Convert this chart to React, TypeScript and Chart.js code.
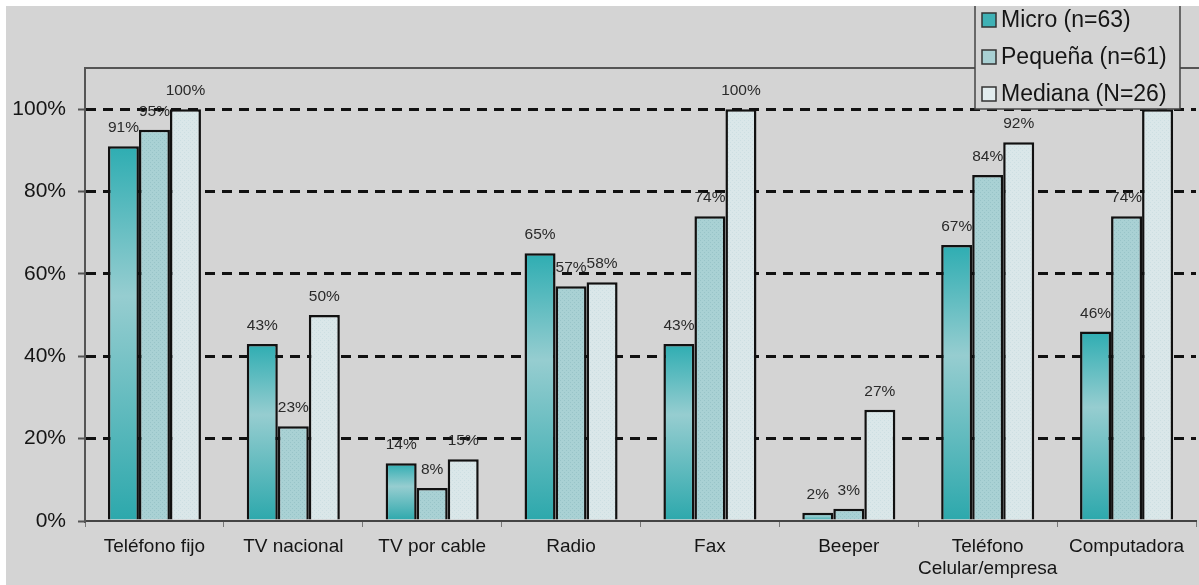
import React, { useEffect, useRef } from "react";
import { Chart, registerables } from "chart.js";

Chart.register(...registerables);

const categories: (string | string[])[] = [
  "Teléfono fijo",
  "TV nacional",
  "TV por cable",
  "Radio",
  "Fax",
  "Beeper",
  ["Teléfono", "Celular/empresa"],
  "Computadora",
];
const microValues = [91, 43, 14, 65, 43, 2, 67, 46];
const pequenaValues = [95, 23, 8, 57, 74, 3, 84, 74];
const medianaValues = [100, 50, 15, 58, 100, 27, 92, 100];
const seriesLabels = ["Micro (n=63)", "Pequeña (n=61)", "Mediana (N=26)"];
const yTickValues = [0, 20, 40, 60, 80, 100];

const FONT = 'Arial, "Liberation Sans", sans-serif';
const BG = "#d4d4d4";
const legendSwatches = ["#3fb1b5", "#a8d0d3", "#e2ecee"];

function makePattern(base: string, dot: string): CanvasPattern | string {
  const c = document.createElement("canvas");
  c.width = 4;
  c.height = 4;
  const x = c.getContext("2d");
  if (!x) return base;
  x.fillStyle = base;
  x.fillRect(0, 0, 4, 4);
  x.fillStyle = dot;
  x.fillRect(0, 0, 1, 1);
  x.fillRect(2, 2, 1, 1);
  const p = x.createPattern(c, "repeat");
  return p || base;
}

const bgPlugin = {
  id: "bgPlugin",
  beforeDraw(chart: any) {
    const ctx = chart.ctx;
    ctx.save();
    ctx.fillStyle = BG;
    ctx.fillRect(0, 0, chart.width, chart.height);
    ctx.restore();
  },
};

const valueLabelPlugin = {
  id: "valueLabels",
  afterDatasetsDraw(chart: any) {
    const ctx = chart.ctx;
    ctx.save();
    ctx.font = `15.5px ${FONT}`;
    ctx.fillStyle = "#2a2a2a";
    ctx.textAlign = "center";
    ctx.textBaseline = "alphabetic";
    chart.data.datasets.forEach((ds: any, i: number) => {
      const meta = chart.getDatasetMeta(i);
      meta.data.forEach((el: any, j: number) => {
        ctx.fillText(ds.data[j] + "%", el.x, el.y - 14);
      });
    });
    ctx.restore();
  },
};

const framePlugin = {
  id: "frameLegend",
  afterDraw(chart: any) {
    const ctx = chart.ctx;
    const area = chart.chartArea;
    ctx.save();
    // top frame line
    ctx.strokeStyle = "#555";
    ctx.lineWidth = 2;
    ctx.beginPath();
    ctx.moveTo(area.left, area.top);
    ctx.lineTo(chart.width, area.top);
    ctx.stroke();
    // legend box
    const lx = 969, ly = -3, lw = 205, lh = 106;
    ctx.fillStyle = BG;
    ctx.fillRect(lx, ly, lw, lh);
    ctx.strokeStyle = "#444";
    ctx.lineWidth = 1.5;
    ctx.strokeRect(lx, ly, lw, lh);
    ctx.font = `23px ${FONT}`;
    ctx.textBaseline = "middle";
    ctx.textAlign = "left";
    chart.data.datasets.forEach((ds: any, i: number) => {
      const cy = 14 + i * 37;
      ctx.fillStyle = legendSwatches[i];
      ctx.fillRect(976, cy - 7, 14, 14);
      ctx.strokeStyle = "#333";
      ctx.lineWidth = 1.5;
      ctx.strokeRect(976, cy - 7, 14, 14);
      ctx.fillStyle = "#151515";
      ctx.fillText(ds.label, 995, cy + 1);
    });
    ctx.restore();
  },
};

export default function App() {
  const ref = useRef<HTMLCanvasElement>(null);

  useEffect(() => {
    if (!ref.current) return;
    const pequenaFill = makePattern("#a9d1d4", "#98c4c8");
    const medianaFill = makePattern("#dae7e9", "#cddfe2");

    const microFill = (c: any) => {
      const chart = c.chart;
      const area = chart.chartArea;
      if (!area || c.type !== "data") return "#35aeb2";
      const ys = chart.scales.y;
      const top = ys.getPixelForValue(c.raw as number);
      const base = ys.getPixelForValue(0);
      if (!isFinite(top) || !isFinite(base) || base - top < 1) return "#35aeb2";
      const g = chart.ctx.createLinearGradient(0, top, 0, base);
      g.addColorStop(0, "#2eadb2");
      g.addColorStop(0.4, "#96cdd0");
      g.addColorStop(1, "#2ca8ac");
      return g;
    };

    const chart = new Chart(ref.current, {
      type: "bar",
      data: {
        labels: categories,
        datasets: [
          {
            label: seriesLabels[0],
            data: microValues,
            backgroundColor: microFill,
            borderColor: "#111",
            borderWidth: 2.5,
          },
          {
            label: seriesLabels[1],
            data: pequenaValues,
            backgroundColor: pequenaFill as any,
            borderColor: "#111",
            borderWidth: 2.5,
          },
          {
            label: seriesLabels[2],
            data: medianaValues,
            backgroundColor: medianaFill as any,
            borderColor: "#111",
            borderWidth: 2.5,
          },
        ],
      },
      options: {
        animation: false,
        responsive: true,
        maintainAspectRatio: false,
        layout: { padding: { top: 62, right: 3, left: 0, bottom: 0 } },
        datasets: {
          bar: { categoryPercentage: 0.67, barPercentage: 1.0 },
        },
        plugins: {
          legend: { display: false },
          title: { display: false },
          tooltip: { enabled: false },
        },
        scales: {
          x: {
            afterFit: (s: any) => {
              s.height = 64;
            },
            grid: {
              display: true,
              drawOnChartArea: false,
              drawTicks: true,
              tickLength: 6,
              color: "#777",
              offset: true,
            },
            border: { display: true, color: "#444", width: 2 },
            ticks: {
              color: "#151515",
              font: { family: FONT, size: 19 },
              padding: 8,
              maxRotation: 0,
              autoSkip: false,
            },
          },
          y: {
            min: 0,
            max: 110,
            afterFit: (s: any) => {
              s.width = 79;
            },
            afterBuildTicks: (s: any) => {
              s.ticks = yTickValues.map((v) => ({ value: v }));
            },
            grid: {
              color: (c: any) => (c.tick && c.tick.value === 0 ? "rgba(0,0,0,0)" : "#111"),
              lineWidth: 3,
              drawTicks: true,
              tickLength: 7,
              tickColor: "#555",
              tickWidth: 2,
            },
            border: { display: true, color: "#555", width: 2, dash: [10, 7] },
            ticks: {
              color: "#151515",
              font: { family: FONT, size: 21 },
              padding: 12,
              callback: (v: any) => v + "%",
            },
          },
        },
      },
      plugins: [bgPlugin, valueLabelPlugin, framePlugin],
    });
    return () => chart.destroy();
  }, []);

  return (
    <div
      style={{
        position: "absolute",
        left: 6,
        top: 6,
        width: 1193,
        height: 579,
        background: BG,
      }}
    >
      <canvas ref={ref} />
    </div>
  );
}
